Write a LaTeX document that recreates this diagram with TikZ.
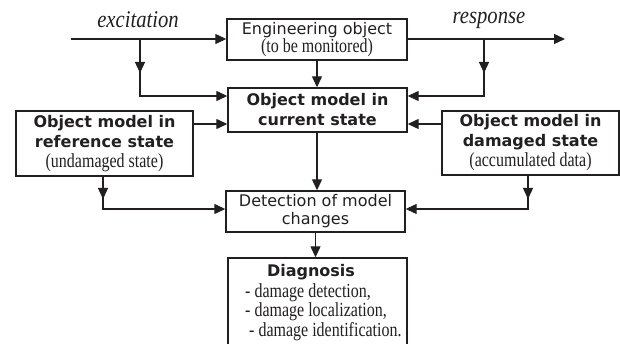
\documentclass[tikz,border=0pt]{standalone}
\usepackage{fontspec}
\setmainfont{Liberation Serif}
\newfontfamily\vfont{DejaVu Sans}
\newfontfamily\tfont[FakeStretch=0.8]{Liberation Serif}
\newfontfamily\ifont[FakeStretch=0.86]{Liberation Serif}
\usetikzlibrary{arrows.meta}
\definecolor{ink}{RGB}{35,31,32}
\newcommand{\serifnote}[1]{{\tfont\mdseries\fontsize{20}{20}\selectfont #1}}
\begin{document}
\begin{tikzpicture}[x=1pt,y=-1pt,
  box/.style={draw=ink, line width=1.4pt, inner sep=0pt, align=center, text=ink},
  ln/.style={draw=ink, line width=1.3pt},
  arr/.style={ln, -{Triangle[length=11pt,width=10pt]}},
  sansr/.style={font=\vfont\fontsize{16}{18}\selectfont},
  sansb/.style={font=\vfont\bfseries\fontsize{16}{20}\selectfont},
  lab/.style={font=\ifont\itshape\fontsize{24}{24}\selectfont, text=ink, inner sep=0pt},
]
\useasboundingbox (0,0) rectangle (620,344);
\clip (0,0) rectangle (620,344);

% boxes
\node[box, sansr, minimum width=180pt, minimum height=41pt] (eng) at (317,39.5)
  {Engineering object\\[0.5pt]\serifnote{(to be monitored)}};
\node[box, sansb, minimum width=179pt, minimum height=44pt] (cur) at (317.5,110)
  {Object model in\\current state};
\node[box, sansb, minimum width=177pt, minimum height=65pt] (ref) at (104.5,143.5)
  {Object model in\\reference state\\\serifnote{(undamaged state)}};
\node[box, sansb, minimum width=177pt, minimum height=64pt] (dam) at (530.5,143)
  {Object model in\\damaged state\\\serifnote{(accumulated data)}};
\node[box, sansr, minimum width=179pt, minimum height=41pt] (det) at (315.5,211.5)
  {Detection of model\\changes};
\node[box, minimum width=179pt, minimum height=100pt] (diag) at (317.5,308) {};
\node[sansb, text=ink, inner sep=0pt] (diagt) at (311,272) {Diagnosis};
\node[font=\tfont\fontsize{20}{19.5}\selectfont, text=ink, inner sep=0pt, align=left, anchor=west] (diagl) at (245,312)
  {- damage detection,\\- damage localization,\\\ - damage identification.};

% labels
\node[lab] (exl) at (138,20) {excitation};
\node[lab] (rsl) at (489,20) {response};

% excitation
\coordinate (exs) at (71,39);
\coordinate (exj) at (140,39);
\coordinate (exm) at (140,73);
\coordinate (exc) at (140,96);
\draw[arr] (exs) -- (exs -| eng.west);
\draw[arr] (exj) |- (exc -| cur.west);
\draw[arr] (exj) -- (exm);

% response
\coordinate (rse) at (565,39);
\coordinate (rsj) at (484,39);
\coordinate (rsm) at (484,73);
\coordinate (rsc) at (484,96);
\draw[arr] (rse -| eng.east) -- (rse);
\draw[arr] (rsj) |- (rsc -| cur.east);
\draw[arr] (rsj) -- (rsm);

% engineering object -> current
\draw[arr] (eng.south) -- (eng.south |- cur.north);

% reference / damaged -> current
\coordinate (rc) at (0,124);
\draw[arr] (rc -| ref.east) -- (rc -| cur.west);
\draw[arr] (rc -| dam.west) -- (rc -| cur.east);

% current -> detection
\coordinate (cd) at (317,0);
\draw[arr] (cd |- cur.south) -- (cd |- det.north);

% reference -> detection
\coordinate (rfm) at (103,199);
\coordinate (rfc) at (103,209);
\draw[arr] (ref.south -| rfm) |- (rfc -| det.west);
\draw[arr] (ref.south -| rfm) -- (rfm);

% damaged -> detection
\coordinate (dmm) at (528,199);
\coordinate (dmc) at (528,209);
\draw[arr] (dam.south -| dmm) |- (dmc -| det.east);
\draw[arr] (dam.south -| dmm) -- (dmm);

% detection -> diagnosis
\draw[arr] (det.south) -- (det.south |- diag.north);
\end{tikzpicture}
\end{document}
